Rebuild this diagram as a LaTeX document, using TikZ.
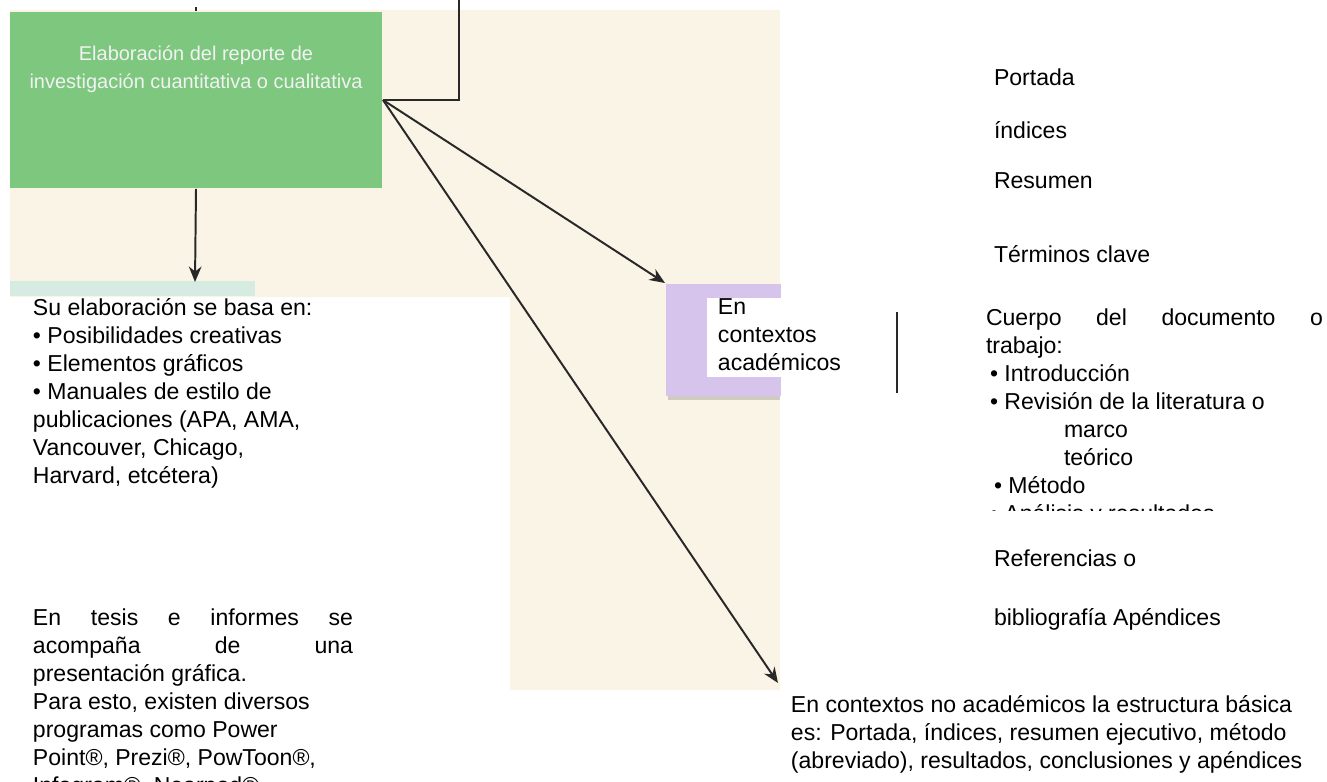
\documentclass[tikz,border=0pt]{standalone}
\usepackage{fontspec}
\setmainfont{Liberation Sans}
\usetikzlibrary{arrows.meta,positioning}

\definecolor{verdecaja}{RGB}{125,199,127}
\definecolor{lilacaja}{RGB}{214,196,236}
\definecolor{papel}{RGB}{250,244,231}
\definecolor{franja}{RGB}{214,236,226}
\definecolor{trazo}{RGB}{40,40,40}

\begin{document}
\begin{tikzpicture}[line width=1.4pt,>={Stealth[length=11pt,width=9pt]},
  texto/.style={anchor=north west,inner sep=0pt,align=left,
    font=\fontsize{16.4}{19.9}\selectfont,execute at begin node=\strut},
  flecha/.style={->,draw=trazo,line width=1.4pt}]
\useasboundingbox (0,0) rectangle (33.175,-19.55);
% ---------- fondo ----------
\fill[papel] (0.25,-0.25) -- (19.5,-0.25) -- (19.5,-17.25) -- (12.75,-17.25)
  -- (12.75,-7.425) -- (0.25,-7.425) -- cycle;
\fill[franja] (0.25,-7.025) rectangle (6.375,-7.4);
% ---------- caja verde ----------
\node[fill=verdecaja,minimum width=9.3cm,minimum height=4.4cm,inner sep=0pt] (reporte) at (4.9,-2.5) {};
\node[below=0.835cm of reporte.north,inner sep=0pt,align=center,text=white!90!gray,
  font=\fontsize{14.2}{19.9}\selectfont,execute at begin node=\strut] (reportetxt)
  {Elaboración del reporte de\\investigación cuantitativa o cualitativa};
\coordinate (arriba) at (11.475,0);
\coordinate (basatip) at (4.875,-7.05);
\draw[trazo] (reporte.north) -- ++(0,0.1);
\draw[trazo] (reporte.east) -| (arriba);
\draw[flecha] (reporte.south) -- (basatip);
% ---------- caja lila ----------
\fill[gray,opacity=0.35] (16.7,-9.825) rectangle (19.5,-10.0);
\node[fill=lilacaja,anchor=north west,minimum width=2.875cm,minimum height=2.8cm,inner sep=0pt] (acad) at (16.625,-7.075) {};
\fill[white] (17.675,-7.45) rectangle (21.25,-9.425);
\node[texto] (acadtxt) at (17.925,-7.45) {En\\contextos\\académicos};
\draw[flecha] (reporte.east) -- (acad.north west);
\draw[trazo] (22.425,-7.8) -- (22.425,-9.825);
% ---------- columna izquierda ----------
\node[texto] (basa) at (0.8,-7.45) {Su elaboración se basa en:\\• Posibilidades creativas\\• Elementos gráficos\\• Manuales de estilo de\\publicaciones (APA, AMA,\\Vancouver, Chicago,\\Harvard, etcétera)};
\node[texto] (tesis) at (0.8,-15.2) {\hbox to 8cm{En\hfill tesis\hfill e\hfill informes\hfill se}\\\hbox to 8cm{acompaña\hfill de\hfill una}\\presentación gráfica.\\Para esto, existen diversos\\programas como Power\\Point®, Prezi®, PowToon®,\\Infogram®, Nearpod®,};
% ---------- columna derecha ----------
\node[texto] (portada) at (24.825,-1.625) {Portada};
\node[texto] (indices) at (24.825,-2.95) {índices};
\node[texto] (resumen) at (24.825,-4.2) {Resumen};
\node[texto] (terminos) at (24.825,-6.05) {Términos clave};
\begin{scope}
\clip (24,-7) rectangle (33.175,-12.75);
\node[texto] (cuerpo) at (24.625,-7.7) {\hbox to 8.425cm{Cuerpo\hfill del\hfill documento\hfill o}\\trabajo:\\\hspace{0.1cm}• Introducción\\\hspace{0.1cm}• Revisión de la literatura o\\\hspace{1.95cm}marco\\\hspace{1.95cm}teórico\\\hspace{0.2cm}• Método\\\hspace{0.1cm}• Análisis y resultados};
\end{scope}
\node[texto] (referencias) at (24.825,-13.65) {Referencias o};
\node[texto] (biblio) at (24.825,-15.125) {bibliografía Apéndices};
\node[texto,inner xsep=0.3cm,inner ysep=0.3cm] (noacad) at (19.45,-17.075) {En contextos no académicos la estructura básica\\es: Portada, índices, resumen ejecutivo, método\\(abreviado), resultados, conclusiones y apéndices};
\draw[flecha] (reporte.east) -- (noacad.north west);
\end{tikzpicture}
\end{document}
